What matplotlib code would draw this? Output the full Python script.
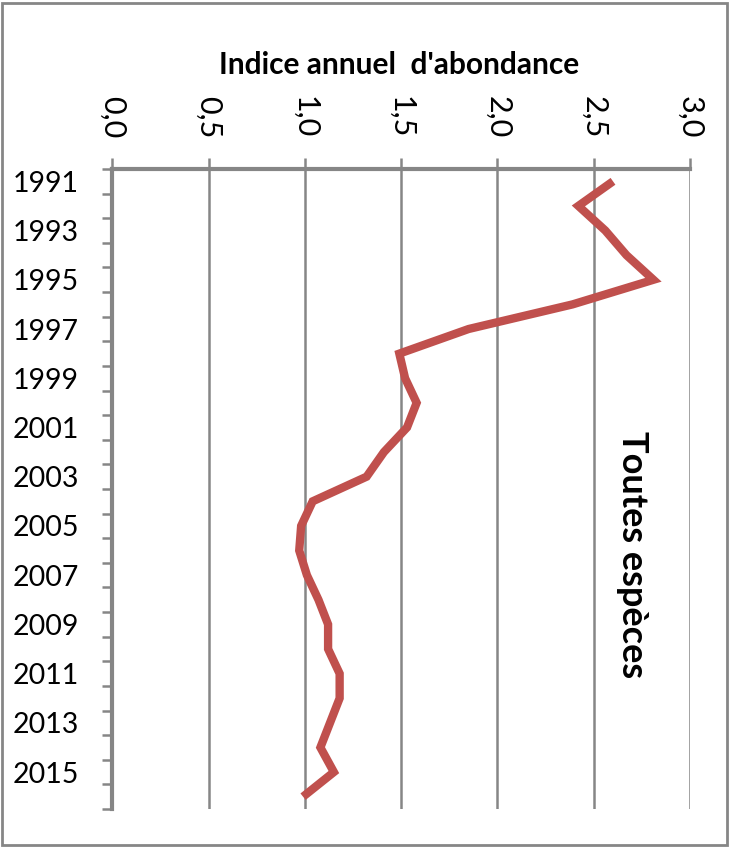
import numpy as np
import matplotlib
matplotlib.use("Agg")
import matplotlib.pyplot as plt
from matplotlib.patches import Rectangle

plt.rcParams['font.family'] = ['Lato', 'DejaVu Sans']

# données : indice annuel d'abondance, toutes espèces
annees = list(range(1991, 2017))
indice = [2.60, 2.42, 2.56, 2.67, 2.81, 2.39, 1.85, 1.49, 1.52, 1.58,
          1.53, 1.41, 1.32, 1.04, 0.98, 0.97, 1.01, 1.07, 1.12, 1.12,
          1.18, 1.18, 1.13, 1.08, 1.15, 0.99]
x_ticks = [0.0, 0.5, 1.0, 1.5, 2.0, 2.5, 3.0]
x_labels = ["0,0", "0,5", "1,0", "1,5", "2,0", "2,5", "3,0"]

grid_col = "#868686"
line_col = "#C0504D"

fig = plt.figure(figsize=(7.29, 8.48), dpi=100)
ax = fig.add_axes([0.1543, 0.046, 0.7922, 0.7547])

pos = np.arange(len(annees))
ax.plot(indice, pos, color=line_col, lw=6, solid_joinstyle='miter', solid_capstyle='butt')

ax.set_xlim(0, 3.0)
ax.set_ylim(len(annees) - 0.5, -0.5)

# axe x en haut
ax.xaxis.set_ticks_position('top')
ax.set_xticks(x_ticks)
ax.set_xticklabels(x_labels, rotation=-90, fontsize=22)
ax.tick_params(axis='x', which='major', length=8, width=1.8, color=grid_col, pad=14)
ax.grid(axis='x', color=grid_col, lw=1.8)

# axe y : années, une étiquette sur deux
ax.set_yticks(pos[::2])
ax.set_yticklabels([str(a) for a in annees[::2]], fontsize=20.5)
ax.set_yticks(np.arange(-0.5, len(annees), 1), minor=True)
ax.tick_params(axis='y', which='major', length=0, pad=24)
ax.tick_params(axis='y', which='minor', length=7, width=1.8, color=grid_col)

for s in ['right', 'bottom']:
    ax.spines[s].set_visible(False)
for s in ['left', 'top']:
    ax.spines[s].set_color(grid_col)
    ax.spines[s].set_linewidth(3)
ax.set_axisbelow(True)

fig.text(0.547, 0.923, "Indice annuel  d'abondance", ha='center', va='center',
         fontsize=21.5, fontweight='bold')
fig.text(0.868, 0.3455, "Toutes espèces", ha='center', va='center', rotation=-90,
         fontsize=26, fontweight='bold')

fig.patches.append(Rectangle((0.003, 0.003), 0.994, 0.994, transform=fig.transFigure,
                             fill=False, edgecolor=grid_col, lw=2))

plt.savefig("out.png", dpi=100)
